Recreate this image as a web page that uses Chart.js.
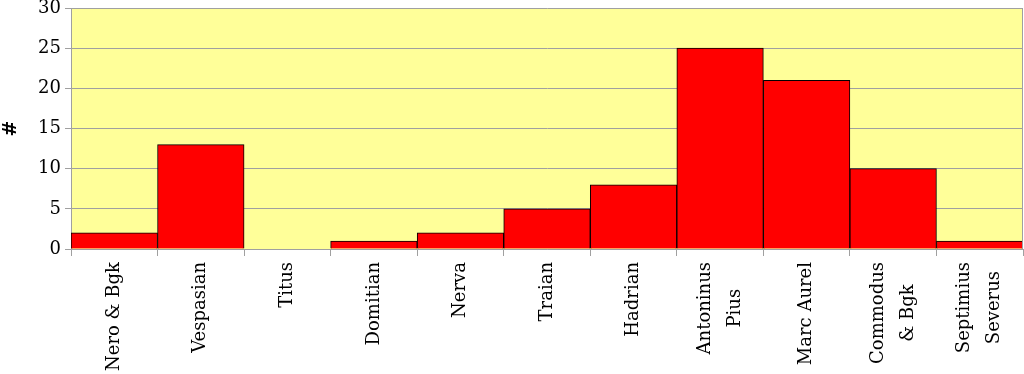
<!DOCTYPE html>
<html>
<head>
<meta charset="utf-8">
<script src="https://cdn.jsdelivr.net/npm/chart.js@4.4.0/dist/chart.umd.min.js"></script>
<style>
  html, body { margin: 0; padding: 0; background: #ffffff; }
  #wrap { width: 1024px; height: 374px; }
</style>
</head>
<body>
<div id="wrap"><canvas id="chart"></canvas></div>
<script>
// Données
const emperors = [
    'Nero & Bgk', 'Vespasian', 'Titus', 'Domitian', 'Nerva', 'Traian',
    'Hadrian', ['Antoninus', 'Pius'], 'Marc Aurel', ['Commodus', '& Bgk'], ['Septimius', 'Severus']
];
const counts = [2, 13, 0, 1, 2, 5, 8, 25, 21, 10, 1];
const yTicks = [0, 5, 10, 15, 20, 25, 30];

const fontFamily = '"DejaVu Serif", "Liberation Serif", serif';
const lineGray = '#a0a0a0';

// Fond jaune de la zone du graphe + bord droit
const plotBackground = {
    id: 'plotBackground',
    beforeDraw(chart) {
        const a = chart.chartArea;
        const ctx = chart.ctx;
        ctx.save();
        ctx.fillStyle = '#ffff99';
        ctx.fillRect(a.left, a.top, a.right - a.left, a.bottom - a.top);
        ctx.restore();
    },
    afterDraw(chart) {
        const a = chart.chartArea;
        const ctx = chart.ctx;
        ctx.save();
        ctx.strokeStyle = lineGray;
        ctx.lineWidth = 1;
        ctx.beginPath();
        ctx.moveTo(a.right - 0.5, a.top);
        ctx.lineTo(a.right - 0.5, a.bottom);
        ctx.stroke();
        ctx.restore();
    }
};

// Étiquettes verticales, lignes centrées entre elles
const verticalLabels = {
    id: 'verticalLabels',
    afterDraw(chart) {
        const ctx = chart.ctx;
        const xScale = chart.scales.x;
        const top = chart.chartArea.bottom + 13;
        const lineGap = 30;
        ctx.save();
        ctx.font = '18px ' + fontFamily;
        ctx.fillStyle = '#000000';
        ctx.textAlign = 'center';
        ctx.textBaseline = 'middle';
        emperors.forEach((label, i) => {
            const lines = Array.isArray(label) ? label : [label];
            const w = Math.max(...lines.map(l => ctx.measureText(l).width));
            const x = xScale.getPixelForValue(i);
            ctx.save();
            ctx.translate(x, top + w / 2);
            ctx.rotate(-Math.PI / 2);
            lines.forEach((line, j) => {
                ctx.fillText(line, 0, (j - (lines.length - 1) / 2) * lineGap);
            });
            ctx.restore();
        });
        ctx.restore();
    }
};

new Chart(document.getElementById('chart').getContext('2d'), {
    type: 'bar',
    data: {
        labels: emperors,
        datasets: [{
            label: '#',
            data: counts,
            backgroundColor: '#ff0000',
            borderColor: '#000000',
            borderWidth: 1,
            barPercentage: 1,
            categoryPercentage: 1
        }]
    },
    options: {
        responsive: true,
        maintainAspectRatio: false,
        animation: false,
        layout: { padding: { top: 8, right: 1, left: 0, bottom: 0 } },
        plugins: {
            legend: { display: false },
            tooltip: { enabled: false }
        },
        scales: {
            x: {
                grid: {
                    offset: true,
                    drawOnChartArea: false,
                    color: lineGray,
                    tickLength: 7
                },
                border: { color: lineGray },
                ticks: { display: false },
                afterFit(scale) { scale.height = 125; }
            },
            y: {
                min: 0,
                max: 30,
                afterBuildTicks(scale) { scale.ticks = yTicks.map(v => ({ value: v })); },
                grid: { color: lineGray, tickLength: 6 },
                border: { color: lineGray },
                ticks: {
                    color: '#000000',
                    font: { family: fontFamily, size: 18 },
                    padding: 4
                },
                title: {
                    display: true,
                    text: '#',
                    color: '#000000',
                    font: { family: fontFamily, size: 19, weight: 'bold' },
                    padding: 0
                },
                afterFit(scale) {
                    scale.width = 71;
                    scale.paddingTop = 0;
                    scale.paddingBottom = 0;
                }
            }
        }
    },
    plugins: [plotBackground, verticalLabels]
});
</script>
</body>
</html>
